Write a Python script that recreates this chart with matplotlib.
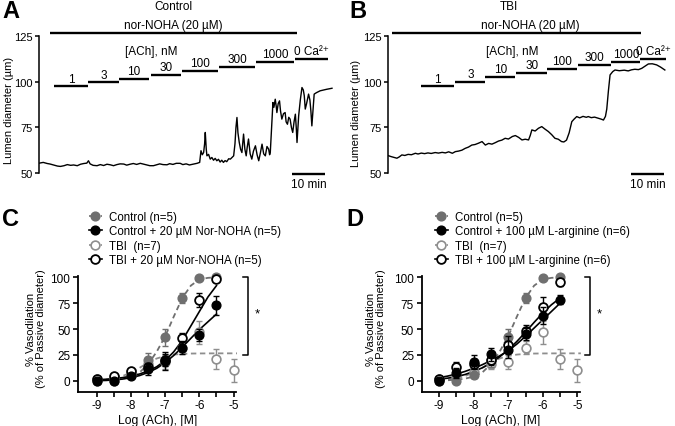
import matplotlib
matplotlib.use('Agg')
import matplotlib.pyplot as plt
from matplotlib.lines import Line2D

plt.rcParams['font.family'] = ['Liberation Sans', 'DejaVu Sans']
plt.rcParams['axes.unicode_minus'] = False

# ---------------- panel A / B : diameter traces ----------------
ach_labels = ['1', '3', '10', '30', '100', '300', '1000', '0 Ca²⁺']

# bar start / end (min) and level (µm) for each ACh step
a_bar_start = [4.5, 14.8, 24.2, 33.9, 43.3, 54.5, 65.8, 77.6]
a_bar_end = [14.8, 24.2, 33.3, 43.0, 54.2, 65.5, 77.3, 87.6]
a_bar_level = [97.5, 99.7, 101.5, 103.7, 105.9, 108.1, 110.8, 112.4]

b_bar_start = [10.0, 20.3, 29.4, 38.8, 48.2, 57.6, 67.6, 76.4]
b_bar_end = [20.0, 29.4, 38.5, 48.2, 57.3, 67.6, 76.4, 84.2]
b_bar_level = [97.5, 100.0, 102.8, 104.8, 107.0, 109.4, 111.0, 112.4]

a_time = [0, 1.2, 2.4, 3.3, 4.5, 5.5, 6.4, 7.5, 8.5, 9.5, 10.4, 11.5, 12.5, 13.5, 14.4,
          14.9, 15.4, 16.3, 17.5, 18.5, 19.5, 20.5, 21.5, 22.5, 23.5, 24.5, 25.6, 26.5,
          27.5, 28.5, 29.5, 30.6, 31.5, 32.5, 33.5, 34.6, 35.5, 36.5, 37.5, 38.7, 39.5,
          40.5, 41.5, 42.7, 43.5, 44.5, 45.5, 46.8, 47.8, 48.6, 49.0, 49.4, 49.8, 50.1,
          50.3, 50.6, 50.8, 51.3, 51.8, 52.3, 52.8, 53.3, 53.8, 54.3, 54.8, 55.3, 55.8,
          56.3, 56.8, 57.4, 57.9, 58.4, 58.9, 59.3, 59.6, 59.9, 60.2, 60.6, 61.0, 61.4,
          61.7, 61.9, 62.3, 62.7, 63.0, 63.4, 63.9, 64.4, 64.9, 65.5, 66.0, 66.5, 67.0,
          67.5, 68.0, 68.5, 69.0, 69.5, 69.8, 70.0, 70.4, 70.8, 71.1, 71.5, 71.8, 72.0,
          72.4, 72.8, 73.1, 73.5, 74.0, 74.5, 74.8, 75.2, 75.6, 76.0, 76.4, 76.8, 77.2,
          77.6, 77.9, 78.1, 78.4, 78.6, 79.1, 79.6, 80.0, 80.3, 80.6, 81.0, 81.6, 82.0,
          82.3, 82.6, 83.0, 83.3, 84.0, 85.1, 86.0, 87.0, 88.7]
a_diam = [55.4, 55.8, 55.2, 54.9, 54.3, 53.8, 53.6, 54.0, 54.6, 54.2, 54.4, 54.0, 54.8, 55.2, 55.4,
          56.7, 55.0, 54.2, 54.0, 54.6, 54.1, 54.8, 54.5, 54.0, 54.6, 55.0, 54.9, 54.3,
          54.8, 55.2, 54.7, 55.3, 54.9, 54.4, 54.0, 54.0, 54.5, 55.0, 54.6, 54.5, 55.1,
          54.7, 55.3, 55.3, 54.6, 55.0, 54.4, 54.9, 55.3, 55.8, 62.2, 60.0, 61.2, 66.0,
          72.2, 63.0, 59.4, 60.2, 57.6, 58.5, 57.0, 58.0, 56.7, 57.5, 56.0, 57.0, 55.8,
          56.8, 56.2, 57.8, 57.6, 58.5, 59.4, 66.0, 75.0, 80.4, 72.0, 66.7, 63.0, 61.2,
          67.0, 71.3, 63.0, 59.4, 64.0, 68.6, 60.5, 57.6, 62.0, 64.9, 60.0, 56.7, 61.0,
          65.8, 60.5, 59.4, 64.5, 63.1, 60.0, 61.2, 75.0, 88.6, 86.0, 90.4, 86.5, 83.1,
          88.0, 89.5, 84.0, 79.5, 82.5, 83.1, 78.0, 76.7, 80.5, 79.5, 75.0, 72.2, 78.0,
          82.2, 74.0, 66.7, 75.0, 81.3, 90.0, 96.8, 95.5, 92.3, 85.0, 88.0, 93.2, 90.0,
          84.0, 75.8, 86.0, 93.2, 94.0, 95.0, 95.4, 95.8, 96.4]

b_time = [0, 0.8, 1.6, 2.6, 3.3, 4.1, 5.0, 6.0, 7.0, 8.2, 9.0, 10.0, 11.0, 12.0, 13.0, 14.2,
          15.2, 16.3, 17.3, 18.3, 19.4, 20.3, 21.3, 22.3, 23.3, 24.3, 25.3, 26.3, 27.3,
          28.4, 29.4, 30.4, 31.4, 32.4, 33.4, 34.4, 35.4, 36.4, 37.6, 38.5, 39.5, 40.5,
          41.5, 42.5, 43.0, 43.5, 44.5, 45.5, 46.5, 47.5, 48.5, 49.5, 50.5, 51.5, 52.5,
          53.2, 54.0, 54.8, 55.6, 56.3, 57.1, 58.0, 59.0, 60.0, 60.6, 61.5, 62.5, 63.6,
          64.5, 65.2, 65.8, 66.2, 66.7, 67.2, 68.0, 68.7, 70.0, 71.5, 72.7, 73.7, 74.7,
          75.8, 76.8, 77.8, 78.8, 80.0, 81.3, 82.5, 83.8]
b_diam = [59.5, 59.0, 58.6, 58.1, 58.8, 59.9, 59.6, 60.2, 60.0, 60.8, 60.4, 60.9, 60.6, 61.0, 60.7, 61.2,
          60.9, 61.3, 61.0, 61.6, 60.8, 61.7, 62.0, 62.5, 63.5, 64.2, 65.3, 65.6, 66.3,
          67.2, 65.3, 66.2, 65.8, 66.6, 67.5, 68.0, 69.0, 68.6, 70.0, 70.5, 69.5, 68.1,
          68.5, 68.1, 70.5, 73.6, 73.0, 74.5, 75.4, 74.0, 72.7, 71.0, 69.0, 68.5, 67.2,
          67.0, 68.0, 72.0, 78.1, 79.5, 80.9, 80.2, 81.0, 80.5, 80.9, 80.3, 80.6, 80.0,
          79.5, 79.0, 81.0, 85.0, 95.0, 103.7, 105.5, 106.4, 106.0, 106.3, 105.9, 106.5, 106.8,
          106.6, 107.3, 108.5, 109.7, 109.8, 109.2, 108.0, 106.4]

# ---------------- panel C / D : concentration-response ----------------
log_ach = [-9, -8.5, -8, -7.5, -7, -6.5, -6, -5.5]
log_ach_tbi = [-9, -8.5, -8, -7.5, -7, -6.5, -6, -5.5, -5]

ctrl = [0, 0, 5.5, 20, 42, 80, 99, 100]
ctrl_err = [1, 1, 3, 6.5, 8, 5, 1.5, 1]
tbi = [2, 4, 8, 16, 18, 32, 47, 21, 10]
tbi_err = [1.5, 2, 3, 5, 7, 6, 11, 10, 11]

ctrl_noha = [0, 0, 5, 11, 19, 32, 44, 73]
ctrl_noha_err = [1, 2, 2.5, 5, 9, 6, 6, 9]
tbi_noha = [2, 4.5, 9.5, 13, 20, 41, 78, 98]
tbi_noha_err = [1, 1.5, 2, 4, 6, 5, 7, 2]

ctrl_larg = [0, 7.5, 18, 25.5, 30, 45, 63, 78.5]
ctrl_larg_err = [1, 5, 7, 6, 8, 6, 8, 4]
tbi_larg = [1.5, 13, 16, 20, 35, 48, 71, 95]
tbi_larg_err = [1, 5, 5, 5, 8, 6, 10, 3]

# fitted curves
fit_x = [-9, -8.75, -8.5, -8.25, -8, -7.75, -7.5, -7.25, -7, -6.75, -6.5, -6.25, -6, -5.75, -5.5]
fit_ctrl = [0, 0.5, 1, 2, 4, 8, 16, 28, 43, 62, 80, 92, 98, 99.5, 100]
fit_x_tbi = [-9, -8.75, -8.5, -8.25, -8, -7.75, -7.5, -7.25, -7, -6.75, -6.5, -6.25, -6, -5.5, -5, -4.9]
fit_tbi = [0.5, 1, 2.5, 4.5, 8, 12.5, 17.5, 21.5, 24, 25.3, 26, 26.3, 26.4, 26.5, 26.5, 26.5]
fit_ctrl_noha = [0, 0.3, 0.8, 1.6, 3, 5, 8, 12, 17.5, 24.5, 32.5, 41, 49.5, 57, 64.5]
fit_tbi_noha = [1, 1.4, 2, 3, 4.5, 6.5, 9.5, 13.5, 19.5, 28, 39, 53, 67, 81, 92]
fit_ctrl_larg = [3, 4.5, 6.5, 9, 12, 15.5, 19.5, 24, 29, 35.5, 43, 51, 59, 67, 75]
fit_tbi_larg = [1.5, 2.5, 4, 6, 9, 12.5, 17, 23, 30, 38, 47, 56.5, 65.5, 73.5, 80]

GRAY = '#6f6f6f'
LGRAY = '#8e8e8e'

fig = plt.figure(figsize=(6.75, 4.27), dpi=100)


def trace_panel(rect, xmax, time, diam, starts, ends, levels, title, title_x, noha_x, noha_txt_x,
                ach_x, scale_x):
    ax = fig.add_axes(rect)
    ax.plot(time, diam, color='black', lw=1.0)
    for s, e, lev, lab in zip(starts, ends, levels, ach_labels):
        ax.plot([s, e], [lev, lev], color='black', lw=1.7, clip_on=False, solid_capstyle='butt')
        ax.text((s + e) / 2, lev + 0.9, lab, ha='center', va='bottom', fontsize=8.5)
    ax.plot(noha_x, [126.6, 126.6], color='black', lw=1.7, clip_on=False, solid_capstyle='butt')
    ax.text(noha_txt_x, 131.3, 'nor-NOHA (20 µM)', ha='center', va='center', fontsize=8.5)
    ax.text(title_x, 141.3, title, ha='center', va='center', fontsize=8.5)
    ax.text(ach_x, 116.6, '[ACh], nM', ha='center', va='center', fontsize=8.5)
    ax.plot(scale_x, [49.2, 49.2], color='black', lw=1.7, clip_on=False, solid_capstyle='butt')
    ax.text(sum(scale_x) / 2, 44.0, '10 min', ha='center', va='center', fontsize=8.5)
    ax.set_xlim(0, xmax)
    ax.set_ylim(50, 125)
    ax.set_yticks([50, 75, 100, 125])
    for side in ['top', 'right', 'bottom']:
        ax.spines[side].set_visible(False)
    ax.spines['left'].set_linewidth(1.1)
    ax.tick_params(axis='y', direction='out', length=3, width=1.1, labelsize=8, pad=1.5)
    ax.set_xticks([])
    return ax


trace_panel([0.0582, 0.5925, 0.44, 0.3208], 90, a_time, a_diam, a_bar_start, a_bar_end,
            a_bar_level, 'Control', 40.6, [3.3, 78.2], 40.6, 33.9, [76.7, 86.7])
trace_panel([0.5753, 0.5925, 0.4204, 0.3208], 86, b_time, b_diam, b_bar_start, b_bar_end,
            b_bar_level, 'TBI', 36.5, [1.2, 76.7], 43.0, 37.5, [73.6, 83.6])

fig.text(9 / 675, 1 - 110 / 427, 'Lumen diameter (µm)', rotation=90, ha='center', va='center', fontsize=8)
fig.text(356 / 675, 1 - 113 / 427, 'Lumen diameter (µm)', rotation=90, ha='center', va='center', fontsize=8)


def crc_panel(rect, xmin, drug_ctrl, drug_ctrl_err, drug_tbi, drug_tbi_err, fit_dc, fit_dt,
              labels, leg_x, bracket_x):
    ax = fig.add_axes(rect)
    # fits
    ax.plot(fit_x_tbi, fit_tbi, color=LGRAY, lw=1.3, ls=(0, (3, 2)), clip_on=False, zorder=2)
    ax.plot(fit_x, fit_ctrl, color=GRAY, lw=1.3, ls=(0, (3, 2)), clip_on=False, zorder=2)
    ax.plot(fit_x, fit_dc, color='black', lw=1.2, clip_on=False, zorder=2)
    ax.plot(fit_x, fit_dt, color='black', lw=1.2, clip_on=False, zorder=2)
    # error bars
    eb = dict(fmt='none', capsize=2.5, elinewidth=1.0, capthick=1.0, clip_on=False)
    ax.errorbar(log_ach_tbi, tbi, yerr=tbi_err, ecolor=LGRAY, zorder=3, **eb)
    ax.errorbar(log_ach, ctrl, yerr=ctrl_err, ecolor=GRAY, zorder=4, **eb)
    ax.errorbar(log_ach, drug_tbi, yerr=drug_tbi_err, ecolor='black', zorder=5, **eb)
    ax.errorbar(log_ach, drug_ctrl, yerr=drug_ctrl_err, ecolor='black', zorder=6, **eb)
    # markers
    ax.plot(log_ach_tbi, tbi, 'o', ms=6.3, mfc='white', mec=LGRAY, mew=1.2, ls='none', clip_on=False, zorder=3.5)
    ax.plot(log_ach, ctrl, 'o', ms=6.3, mfc=GRAY, mec=GRAY, ls='none', clip_on=False, zorder=4.5)
    ax.plot(log_ach, drug_tbi, 'o', ms=6.3, mfc='white', mec='black', mew=1.3, ls='none', clip_on=False, zorder=5.5)
    ax.plot(log_ach, drug_ctrl, 'o', ms=6.3, mfc='black', mec='black', ls='none', clip_on=False, zorder=6.5)

    ax.set_xlim(xmin, -4.92)
    ax.set_ylim(-10.6, 101)
    ax.set_xticks([-9, -8, -7, -6, -5])
    ax.set_xticklabels(['-9', '-8', '-7', '-6', '-5'])
    ax.set_xticks([-8.5, -7.5, -6.5, -5.5], minor=True)
    ax.set_yticks([0, 25, 50, 75, 100])
    ax.tick_params(which='both', direction='out', length=3.5, width=1.2, labelsize=8.5, pad=2)
    for side in ['top', 'right']:
        ax.spines[side].set_visible(False)
    for side in ['left', 'bottom']:
        ax.spines[side].set_linewidth(1.3)

    # significance bracket
    ax.plot([bracket_x - 0.14, bracket_x, bracket_x, bracket_x - 0.14], [100, 100, 25, 25],
            color='black', lw=1.1, clip_on=False)
    ax.text(bracket_x + 0.27, 65, '*', ha='center', va='center', fontsize=9.5)

    handles = [
        Line2D([], [], color=GRAY, ls=(0, (2, 1.5)), lw=1.2, marker='o', ms=6.3, mfc=GRAY, mec=GRAY),
        Line2D([], [], color='black', lw=1.2, marker='o', ms=6.3, mfc='black', mec='black'),
        Line2D([], [], color=LGRAY, ls=(0, (2, 1.5)), lw=1.2, marker='o', ms=6.3, mfc='white', mec=LGRAY, mew=1.2),
        Line2D([], [], color='black', lw=1.2, marker='o', ms=6.3, mfc='white', mec='black', mew=1.3),
    ]
    fig.legend(handles, labels, loc='upper left', bbox_to_anchor=(leg_x, 1 - 212 / 427),
               frameon=False, fontsize=8.3, handlelength=1.1, handletextpad=0.6,
               labelspacing=0.2, borderpad=0, borderaxespad=0, numpoints=1)
    ax.set_xlabel('Log (ACh), [M]', fontsize=8.7, labelpad=2)
    return ax


crc_panel([0.1156, 0.0803, 0.2345, 0.2703], -9.55, ctrl_noha, ctrl_noha_err, tbi_noha, tbi_noha_err,
          fit_ctrl_noha, fit_tbi_noha,
          ['Control (n=5)', 'Control + 20 µM Nor-NOHA (n=5)', 'TBI  (n=7)', 'TBI + 20 µM Nor-NOHA (n=5)'],
          89 / 675, -4.585)
crc_panel([0.6248, 0.0803, 0.2347, 0.2703], -9.5, ctrl_larg, ctrl_larg_err, tbi_larg, tbi_larg_err,
          fit_ctrl_larg, fit_tbi_larg,
          ['Control (n=5)', 'Control + 100 µM L-arginine (n=6)', 'TBI  (n=7)', 'TBI + 100 µM L-arginine (n=6)'],
          435 / 675, -4.64)

for x in [36 / 675, 376 / 675]:
    fig.text(x, 1 - 329 / 427, '% Vasodilation\n(% of Passive diameter)', rotation=90,
             ha='center', va='center', fontsize=8, multialignment='center', linespacing=1.05)

for lab, x, y in [('A', 11, 11), ('B', 358, 11), ('C', 11, 220), ('D', 355, 220)]:
    fig.text(x / 675, 1 - y / 427, lab, ha='center', va='center', fontsize=17, fontweight='bold')

fig.savefig('out.png', dpi=100)
